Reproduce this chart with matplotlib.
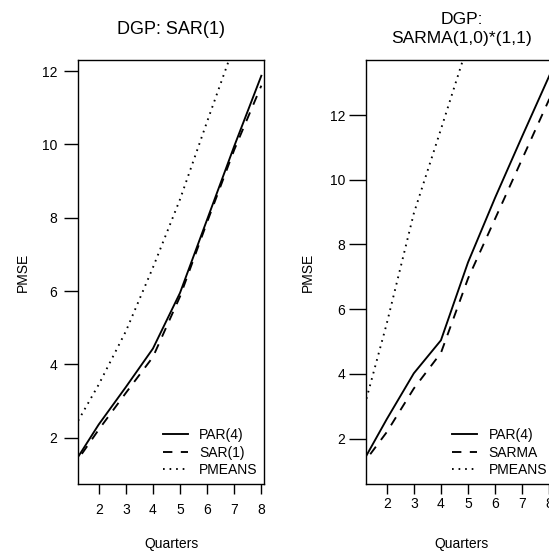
import matplotlib
matplotlib.use("Agg")
import matplotlib.pyplot as plt

plt.rcParams['font.family'] = ['Liberation Sans', 'DejaVu Sans']

# forecast horizon
quarters = [1, 2, 3, 4, 5, 6, 7, 8]

# DGP: SAR(1)
par4_sar = [1.20, 2.36, 3.38, 4.43, 5.95, 7.95, 9.95, 11.87]
sar1 = [1.16, 2.22, 3.22, 4.20, 5.85, 7.88, 9.85, 11.60]
pmeans_sar = [2.15, 3.45, 4.90, 6.64, 8.50, 10.62, 12.70, 14.80]

# DGP: SARMA(1,0)*(1,1)
par4_sarma = [1.10, 2.60, 4.02, 5.04, 7.45, 9.45, 11.35, 13.22]
sarma = [1.08, 2.20, 3.55, 4.65, 6.95, 8.80, 10.65, 12.50]
pmeans_sarma = [2.45, 5.55, 8.96, 11.56, 14.20, 16.50, 18.50, 20.50]

W, H = 549, 554
fig = plt.figure(figsize=(W / 100, H / 100), dpi=100)

def px_axes(x0, x1, y0, y1):
    return fig.add_axes([x0 / W, 1 - y1 / H, (x1 - x0) / W, (y1 - y0) / H])

ax1 = px_axes(78, 264.3, 60, 484)
ax2 = px_axes(366, 557, 60, 484)

lw = 1.35
dash = (0, (5, 4.5))
dot = (0, (0.9, 2.6))

def draw(ax, s1, s2, s3, names, anchor):
    ax.plot(quarters, s1, color='black', lw=lw, ls='-', label=names[0])
    ax.plot(quarters, s2, color='black', lw=lw, ls=dash, label=names[1])
    ax.plot(quarters, s3, color='black', lw=lw, ls=dot, label=names[2])
    ax.set_xticks(range(2, 9))
    for sp in ax.spines.values():
        sp.set_linewidth(1.0)
    ax.set_xlabel('Quarters', fontsize=10)
    ax.set_ylabel('PMSE', fontsize=10)
    ax.legend(loc='lower right', bbox_to_anchor=(anchor, 0), frameon=False,
              fontsize=10, handlelength=1.8, handletextpad=0.8,
              labelspacing=0.25, borderaxespad=0.1)

draw(ax1, par4_sar, sar1, pmeans_sar, ['PAR(4)', 'SAR(1)', 'PMEANS'], 1.0)
ax1.set_xlim(1.235, 8.11)
ax1.set_ylim(0.737, 12.30)
ax1.set_yticks([2, 4, 6, 8, 10, 12])
ax1.tick_params(axis='y', length=10, pad=4.8, labelsize=10, width=1)
ax1.tick_params(axis='x', length=7, pad=7, labelsize=10, width=1)
ax1.set_title('DGP: SAR(1)', fontsize=13, pad=19)
ax1.yaxis.set_label_coords(-0.258, 0.5)
ax1.xaxis.set_label_coords(0.5, -0.124)

draw(ax2, par4_sarma, sarma, pmeans_sarma, ['PAR(4)', 'SARMA', 'PMEANS'], 0.984)
ax2.set_xlim(1.237, 8.28)
ax2.set_ylim(0.60, 13.70)
ax2.set_yticks([2, 4, 6, 8, 10, 12])
ax2.tick_params(axis='y', length=12, pad=3, labelsize=10, width=1)
ax2.tick_params(axis='x', length=7, pad=2.5, labelsize=10, width=1)
ax2.set_title('DGP:\nSARMA(1,0)*(1,1)', fontsize=12.6, pad=12, linespacing=1.35)
ax2.yaxis.set_label_coords(-0.27, 0.5)
ax2.xaxis.set_label_coords(0.5, -0.124)

fig.savefig('out.png', dpi=100)
